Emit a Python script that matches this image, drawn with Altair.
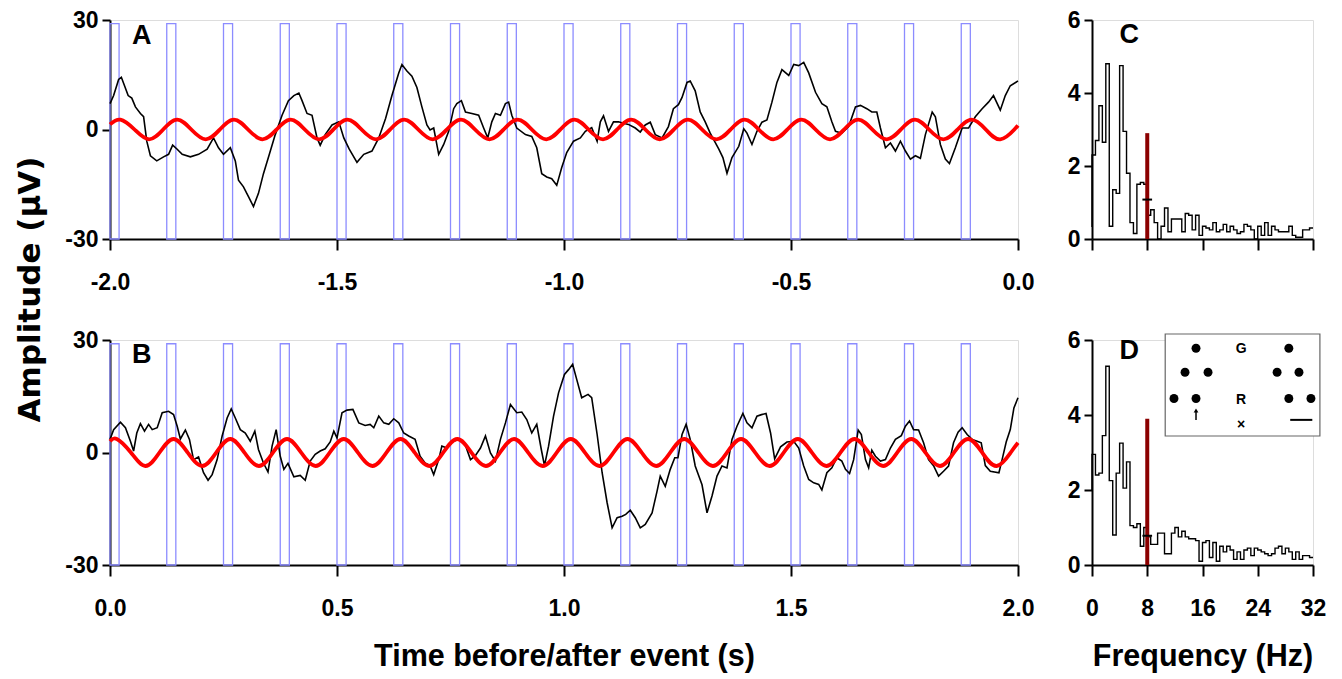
import altair as alt
import pandas as pd

FONT = "Liberation Sans"

# ---------------- data: EEG traces (time s, amplitude uV) ----------------
A_t = [-2.000, -1.992, -1.981, -1.975, -1.968, -1.960, -1.952, -1.944, -1.933, -1.926,
       -1.919, -1.911, -1.897, -1.882, -1.871, -1.862, -1.852, -1.841, -1.823, -1.805,
       -1.786, -1.772, -1.761, -1.750, -1.735, -1.724, -1.717, -1.706, -1.695, -1.684,
       -1.673, -1.662, -1.650, -1.636, -1.621, -1.607, -1.595, -1.584, -1.577, -1.566,
       -1.555, -1.544, -1.537, -1.526, -1.511, -1.496, -1.485, -1.473, -1.456, -1.441,
       -1.423, -1.408, -1.393, -1.379, -1.364, -1.357, -1.346, -1.335, -1.324, -1.313,
       -1.302, -1.295, -1.287, -1.276, -1.265, -1.254, -1.243, -1.236, -1.226, -1.217,
       -1.203, -1.188, -1.177, -1.168, -1.159, -1.151, -1.140, -1.129, -1.122, -1.115,
       -1.104, -1.085, -1.071, -1.060, -1.049, -1.038, -1.027, -1.016, -1.005, -0.994,
       -0.979, -0.964, -0.953, -0.939, -0.927, -0.920, -0.913, -0.902, -0.891, -0.880,
       -0.869, -0.858, -0.843, -0.832, -0.821, -0.810, -0.799, -0.784, -0.770, -0.759,
       -0.748, -0.740, -0.729, -0.722, -0.711, -0.700, -0.689, -0.678, -0.659, -0.650,
       -0.641, -0.630, -0.615, -0.604, -0.597, -0.586, -0.575, -0.564, -0.553, -0.542,
       -0.531, -0.520, -0.505, -0.494, -0.483, -0.472, -0.461, -0.446, -0.432, -0.421,
       -0.410, -0.402, -0.388, -0.373, -0.358, -0.347, -0.333, -0.322, -0.311, -0.303,
       -0.292, -0.281, -0.270, -0.259, -0.248, -0.237, -0.226, -0.215, -0.204, -0.189,
       -0.182, -0.171, -0.160, -0.151, -0.138, -0.123, -0.109, -0.094, -0.079, -0.065,
       -0.054, -0.039, -0.028, -0.017, 0.000]
A_v = [7.1, 9.3, 13.7, 14.3, 12.0, 9.3, 8.6, 6.2, 4.4, 3.5,
       -3.2, -7.2, -8.6, -7.5, -6.8, -4.3, -5.4, -6.8, -7.5, -6.8,
       -5.4, -2.3, -5.0, -6.8, -5.0, -8.6, -13.9, -15.7, -18.4, -21.1,
       -17.5, -12.1, -7.2, -1.4, 3.9, 7.9, 9.3, 10.0, 7.9, 4.4,
       3.9, -2.3, -4.3, -1.4, 1.25, 2.1, -2.3, -5.4, -9.0, -6.8,
       -5.9, -2.3, 3.0, 9.3, 15.5, 17.8, 16.0, 14.6, 11.5, 6.2,
       1.25, -0.1, 0.4, -6.8, -4.1, -0.5, 5.7, 7.1, 7.9, 4.8,
       4.4, 3.9, 0.4, -2.3, 2.1, 4.4, 3.9, 7.1, 7.5, 3.9,
       0.4, -1.4, -1.9, -5.0, -12.1, -13.0, -13.5, -15.3, -10.4, -6.3,
       -3.2, -2.3, -0.5, 0.5, -3.2, 2.1, 3.75, -0.5, 2.1, 2.1,
       1.7, 1.4, 0.4, -0.7, 1.25, 2.0, -1.4, -2.3, 0.8, 5.7,
       6.8, 8.8, 12.9, 13.3, 10.6, 4.8, 2.1, -1.0, -5.4, -7.7,
       -12.0, -7.7, -4.6, 0.2, -1.0, -4.1, -0.5, 2.0, 2.6, 7.5,
       12.9, 16.4, 14.8, 17.8, 17.5, 18.4, 15.5, 10.2, 7.1, 6.2,
       2.1, -0.5, -1.0, 0.8, 6.2, 6.6, 5.7, 4.8, 4.8, 0.4,
       -5.0, -3.7, -5.9, -3.2, -5.9, -8.1, -7.2, -7.9, -1.4, 4.8,
       3.5, -4.1, -8.1, -9.3, -5.0, 0.4, 0.4, 3.5, 5.7, 7.5,
       9.3, 5.3, 9.3, 12.0, 13.3]

B_t = [0.000, 0.008, 0.023, 0.034, 0.045, 0.052, 0.059, 0.067, 0.076, 0.085,
       0.093, 0.104, 0.115, 0.129, 0.140, 0.148, 0.155, 0.166, 0.175, 0.184,
       0.195, 0.206, 0.216, 0.225, 0.236, 0.247, 0.258, 0.267, 0.276, 0.287,
       0.298, 0.309, 0.319, 0.327, 0.338, 0.348, 0.357, 0.366, 0.375, 0.383,
       0.392, 0.405, 0.419, 0.430, 0.441, 0.452, 0.463, 0.474, 0.485, 0.493,
       0.500, 0.511, 0.522, 0.535, 0.548, 0.562, 0.573, 0.581, 0.592, 0.603,
       0.614, 0.625, 0.636, 0.647, 0.658, 0.672, 0.683, 0.694, 0.705, 0.713,
       0.724, 0.731, 0.742, 0.753, 0.768, 0.783, 0.794, 0.804, 0.816, 0.827,
       0.838, 0.849, 0.860, 0.871, 0.882, 0.896, 0.907, 0.918, 0.929, 0.940,
       0.950, 0.957, 0.966, 0.977, 0.988, 1.001, 1.010, 1.019, 1.028, 1.039,
       1.053, 1.061, 1.073, 1.084, 1.095, 1.106, 1.117, 1.128, 1.136, 1.146,
       1.157, 1.168, 1.179, 1.194, 1.205, 1.212, 1.223, 1.234, 1.244, 1.251,
       1.260, 1.269, 1.278, 1.289, 1.304, 1.315, 1.326, 1.337, 1.348, 1.359,
       1.370, 1.381, 1.394, 1.403, 1.414, 1.425, 1.435, 1.445, 1.455, 1.464,
       1.477, 1.491, 1.506, 1.517, 1.528, 1.539, 1.550, 1.561, 1.568, 1.579,
       1.590, 1.601, 1.612, 1.620, 1.629, 1.638, 1.648, 1.655, 1.664, 1.671,
       1.678, 1.686, 1.697, 1.708, 1.719, 1.730, 1.743, 1.752, 1.761, 1.770,
       1.781, 1.792, 1.803, 1.814, 1.825, 1.836, 1.847, 1.858, 1.868, 1.877,
       1.888, 1.899, 1.910, 1.919, 1.928, 1.939, 1.958, 1.965, 1.974, 1.983,
       1.991, 2.000]
B_v = [3.5, 6.1, 8.1, 6.6, 3.0, 0.4, 5.2, 7.7, 5.7, 7.5,
       6.1, 6.6, 10.6, 11.0, 10.1, 7.0, 3.6, 6.0, 3.5, -1.9,
       -1.2, -5.4, -7.4, -5.9, -1.9, 4.4, 9.2, 11.6, 9.2, 6.1,
       5.2, 3.0, 5.7, 0.8, -2.8, -5.2, 1.7, 6.1, -1.0, -4.5,
       -2.9, -6.5, -6.1, -7.4, -2.3, -0.5, 0.4, 1.0, 2.8, 5.7,
       3.9, 10.6, 11.3, 11.5, 7.9, 7.2, 7.5, 6.6, 9.7, 7.9,
       7.5, 9.0, 7.9, 5.2, 4.4, 3.5, -1.0, -2.8, -3.5, -5.9,
       -1.9, 1.7, 1.2, 2.8, 3.5, 1.9, -1.9, -1.0, 1.2, 4.4,
       -0.1, -2.3, 3.5, 7.9, 12.8, 10.6, 10.8, 8.8, 5.2, 7.5,
       0.8, -3.5, 1.7, 9.7, 15.9, 20.8, 22.1, 23.5, 19.5, 14.6,
       15.5, 14.6, 4.8, -5.4, -13.4, -20.1, -17.4, -17.0, -16.5, -15.4,
       -17.4, -20.1, -19.2, -16.1, -10.3, -6.3, -9.0, -4.5, -1.4, -1.4,
       4.8, 7.5, 3.5, -3.6, -8.6, -16.1, -11.6, -6.3, -3.6, -4.1,
       3.5, 7.0, 10.4, 7.9, 6.6, 9.7, 10.1, 10.4, 5.2, -1.7,
       1.5, 2.8, 3.0, 1.2, -3.6, -7.2, -8.1, -8.5, -10.0, -5.4,
       -4.1, -1.4, -2.3, -4.5, -5.6, -1.9, 6.0, 4.8, -1.9, -4.1,
       0.6, -1.0, -2.3, -1.9, 1.2, 3.5, 4.5, 7.0, 8.4, 6.1,
       6.0, 2.6, -1.9, -3.5, -6.3, -5.0, -3.6, 2.6, 5.4, 6.6,
       4.8, 3.5, 3.0, 2.6, -3.5, -5.0, -5.4, -1.9, 2.8, 6.1,
       11.9, 14.6]

# fitted 8 Hz sinusoids (read at peaks / zero crossings / troughs)
sineA_t = [-2.000, -1.977, -1.946, -1.914, -1.883, -1.852, -1.821, -1.789, -1.758,
           -1.727, -1.696, -1.664, -1.633, -1.602, -1.571, -1.539, -1.508,
           -1.477, -1.446, -1.414, -1.383, -1.352, -1.321, -1.289, -1.258,
           -1.227, -1.196, -1.164, -1.133, -1.102, -1.071, -1.039, -1.008,
           -0.977, -0.946, -0.914, -0.883, -0.852, -0.821, -0.789, -0.758,
           -0.727, -0.696, -0.664, -0.633, -0.602, -0.571, -0.539, -0.508,
           -0.477, -0.446, -0.414, -0.383, -0.352, -0.321, -0.289, -0.258,
           -0.227, -0.196, -0.164, -0.133, -0.102, -0.071, -0.039, -0.008, 0.000]
sineA_v = [1.4, 2.7, 0.0, -2.7, 0.0, 2.7, 0.0, -2.7, 0.0,
           2.7, 0.0, -2.7, 0.0, 2.7, 0.0, -2.7, 0.0,
           2.7, 0.0, -2.7, 0.0, 2.7, 0.0, -2.7, 0.0,
           2.7, 0.0, -2.7, 0.0, 2.7, 0.0, -2.7, 0.0,
           2.7, 0.0, -2.7, 0.0, 2.7, 0.0, -2.7, 0.0,
           2.7, 0.0, -2.7, 0.0, 2.7, 0.0, -2.7, 0.0,
           2.7, 0.0, -2.7, 0.0, 2.7, 0.0, -2.7, 0.0,
           2.7, 0.0, -2.7, 0.0, 2.7, 0.0, -2.7, 0.0, 1.1]
sineB_t = [0.000, 0.015, 0.046, 0.078, 0.109, 0.140, 0.171, 0.203, 0.234,
           0.265, 0.296, 0.328, 0.359, 0.390, 0.421, 0.453, 0.484,
           0.515, 0.546, 0.578, 0.609, 0.640, 0.671, 0.703, 0.734,
           0.765, 0.796, 0.828, 0.859, 0.890, 0.921, 0.953, 0.984,
           1.015, 1.046, 1.078, 1.109, 1.140, 1.171, 1.203, 1.234,
           1.265, 1.296, 1.328, 1.359, 1.390, 1.421, 1.453, 1.484,
           1.515, 1.546, 1.578, 1.609, 1.640, 1.671, 1.703, 1.734,
           1.765, 1.796, 1.828, 1.859, 1.890, 1.921, 1.953, 1.984, 2.000]
sineB_v = [3.0, 3.6, 0.0, -3.6, 0.0, 3.6, 0.0, -3.6, 0.0,
           3.6, 0.0, -3.6, 0.0, 3.6, 0.0, -3.6, 0.0,
           3.6, 0.0, -3.6, 0.0, 3.6, 0.0, -3.6, 0.0,
           3.6, 0.0, -3.6, 0.0, 3.6, 0.0, -3.6, 0.0,
           3.6, 0.0, -3.6, 0.0, 3.6, 0.0, -3.6, 0.0,
           3.6, 0.0, -3.6, 0.0, 3.6, 0.0, -3.6, 0.0,
           3.6, 0.0, -3.6, 0.0, 3.6, 0.0, -3.6, 0.0,
           3.6, 0.0, -3.6, 0.0, 3.6, 0.0, -3.6, 0.0, 2.6]

# stimulus pulses (on / off times, s) and their level span (uV)
pulseA_on = [-2.0, -1.875, -1.75, -1.625, -1.5, -1.375, -1.25, -1.125,
             -1.0, -0.875, -0.75, -0.625, -0.5, -0.375, -0.25, -0.125]
pulseA_off = [-1.98, -1.855, -1.73, -1.605, -1.48, -1.355, -1.23, -1.105,
              -0.98, -0.855, -0.73, -0.605, -0.48, -0.355, -0.23, -0.105]
pulseB_on = [0.0, 0.125, 0.25, 0.375, 0.5, 0.625, 0.75, 0.875,
             1.0, 1.125, 1.25, 1.375, 1.5, 1.625, 1.75, 1.875]
pulseB_off = [0.02, 0.145, 0.27, 0.395, 0.52, 0.645, 0.77, 0.895,
              1.02, 1.145, 1.27, 1.395, 1.52, 1.645, 1.77, 1.895]
pulse_low = -30
pulse_high = 29

# ---------------- data: spectra (0.5 Hz bins) ----------------
freq_edges = [0.0, 0.5, 1.0, 1.5, 2.0, 2.5, 3.0, 3.5, 4.0, 4.5, 5.0, 5.5, 6.0, 6.5, 7.0, 7.5,
              8.0, 8.5, 9.0, 9.5, 10.0, 10.5, 11.0, 11.5, 12.0, 12.5, 13.0, 13.5, 14.0, 14.5, 15.0, 15.5,
              16.0, 16.5, 17.0, 17.5, 18.0, 18.5, 19.0, 19.5, 20.0, 20.5, 21.0, 21.5, 22.0, 22.5, 23.0, 23.5,
              24.0, 24.5, 25.0, 25.5, 26.0, 26.5, 27.0, 27.5, 28.0, 28.5, 29.0, 29.5, 30.0, 30.5, 31.0, 31.5,
              32.0]
specC_start = 0.33
specC = [2.3, 2.7, 3.65, 2.65, 4.8, 0.35, 1.35, 1.25, 4.75, 2.95,
         1.8, 0.45, 0.15, 1.5, 1.55, 1.5, 0.65, 0.8, 0.45, 0.0,
         0.35, 0.85, 0.2, 0.55, 0.55, 0.55, 0.2, 0.7, 0.65, 0.25,
         0.65, 0.1, 0.35, 0.3, 0.25, 0.45, 0.2, 0.25, 0.4, 0.2,
         0.35, 0.25, 0.15, 0.2, 0.4, 0.35, 0.25, 0.0, 0.35, 0.1,
         0.45, 0.1, 0.35, 0.25, 0.2, 0.2, 0.2, 0.35, 0.1, 0.05,
         0.05, 0.25, 0.25, 0.3]
specD_start = 2.0
specD = [2.95, 2.4, 2.45, 3.45, 5.3, 2.25, 0.8, 2.45, 3.25, 2.05,
         2.75, 1.05, 1.0, 1.1, 0.5, 1.0, 0.75, 0.55, 0.55, 0.85,
         0.85, 0.3, 0.3, 0.85, 1.0, 0.75, 0.9, 0.75, 0.7, 0.7,
         0.65, 0.1, 0.6, 0.65, 0.2, 0.6, 0.1, 0.5, 0.35, 0.5,
         0.4, 0.15, 0.35, 0.15, 0.4, 0.45, 0.25, 0.45, 0.4, 0.35,
         0.3, 0.25, 0.3, 0.45, 0.5, 0.3, 0.45, 0.35, 0.15, 0.35,
         0.15, 0.25, 0.25, 0.2]
stim_freq = 8.0
stim_power = {"C": 2.9, "D": 3.9}
noise_level = {"C": 1.08, "D": 0.78}
noise_span = [7.3, 8.7]

# panel letters (data coordinates)
letters = {"A": (-1.93, 25.5), "B": (0.07, 26.0), "C": (5.4, 5.6), "D": (5.4, 5.7)}

# inset (electrode layout) in panel-D data coordinates
inset_box = (10.6, 33.0, 3.44, 6.16)
inset_dot_f = [15.06, 28.5, 13.47, 16.8, 26.8, 29.97, 11.87, 15.06, 28.5, 31.7]
inset_dot_a = [5.78, 5.78, 5.14, 5.14, 5.14, 5.14, 4.44, 4.44, 4.44, 4.44]
inset_text = ["G", "R", "×"]
inset_text_f = [21.6, 21.6, 21.6]
inset_text_a = [5.76, 4.41, 3.74]
inset_arrow = (15.06, 3.87, 4.12)
inset_bar = (28.7, 31.9, 3.87)

# ---------------- helpers ----------------
W_T, W_S = 908, 221
H_TOP, H_BOT = 219, 225
NEG_LABEL = "datum.value < 0 ? '-' + format(-datum.value, '{f}') : format(datum.value, '{f}')"

axis_common = dict(
    domainColor="black", domainWidth=2, tickColor="black", tickWidth=2,
    labelFont=FONT, labelFontWeight="bold", labelFontSize=23, labelColor="black",
    titleFont=FONT, titleFontWeight="bold", titleFontSize=30.5, titleColor="black",
    grid=False, labelFlush=False, labelOverlap=False,
)


def trace_panel(t, v, st, sv, pon, poff, xdom, xticks, letter, xtitle, ytitle, height):
    df = pd.DataFrame({"t": t, "v": v})
    dfs = pd.DataFrame({"t": st, "v": sv})
    dfp = pd.DataFrame({"t": pon, "t2": poff, "lo": [pulse_low] * len(pon), "hi": [pulse_high] * len(pon)})
    lx, ly = letters[letter]
    dfl = pd.DataFrame({"t": [lx], "v": [ly], "s": [letter]})

    xax = dict(axis_common, values=xticks, tickSize=11, labelPadding=21,
               labelExpr=NEG_LABEL.format(f=".1f"))
    if xtitle:
        xax.update(title=xtitle, titleY=91, titleBaseline="middle")
    else:
        xax.update(title=None)
    yax = dict(axis_common, values=[-30, 0, 30], tickSize=8, labelPadding=4,
               labelExpr=NEG_LABEL.format(f="d"))
    if ytitle:
        yax.update(title=ytitle, titleX=-80, titleY=269, titleAngle=270, titleFontSize=31,
                   titleFont="DejaVu Sans", titleBaseline="middle", titleAlign="center")
    else:
        yax.update(title=None)

    xs = alt.Scale(domain=xdom, nice=False, zero=False)
    ys = alt.Scale(domain=[-30, 30], nice=False)

    pulses = alt.Chart(dfp).mark_rect(fillOpacity=0, stroke="#8c8cff", strokeWidth=1.3).encode(
        x=alt.X("t:Q", scale=xs, axis=alt.Axis(**xax)), x2="t2:Q",
        y=alt.Y("lo:Q", scale=ys, axis=alt.Axis(**yax)), y2="hi:Q")
    eeg = alt.Chart(df).mark_line(color="black", strokeWidth=1.6).encode(
        x="t:Q", y="v:Q")
    sine = alt.Chart(dfs).mark_line(color="#ff0000", strokeWidth=3.8, interpolate="natural").encode(
        x="t:Q", y="v:Q")
    lab = alt.Chart(dfl).mark_text(font=FONT, fontSize=27, fontWeight="bold", color="black",
                                   align="center", baseline="middle").encode(
        x="t:Q", y="v:Q", text="s:N")
    return alt.layer(pulses, eeg, sine, lab).properties(width=W_T, height=height)


def spec_panel(start, spec, key, show_labels, xtitle, height, inset=False):
    rows = [{"i": 0, "f": freq_edges[0], "p": start}]
    for k, p in enumerate(spec):
        rows.append({"i": k + 1, "f": freq_edges[k], "p": p})
    rows.append({"i": len(spec) + 1, "f": freq_edges[len(spec)], "p": spec[-1]})
    df = pd.DataFrame(rows)

    xax = dict(axis_common, values=[0, 8, 16, 24, 32], tickSize=11, labelPadding=21,
               labels=show_labels)
    if xtitle:
        xax.update(title=xtitle, titleY=91, titleBaseline="middle")
    else:
        xax.update(title=None)
    yax = dict(axis_common, values=[0, 2, 4, 6], tickSize=8, labelPadding=4, title=None)
    xs = alt.Scale(domain=[0, 32], nice=False, zero=False)
    ys = alt.Scale(domain=[0, 6], nice=False)

    line = alt.Chart(df).mark_line(color="black", strokeWidth=1.4, interpolate="step-after").encode(
        x=alt.X("f:Q", scale=xs, axis=alt.Axis(**xax)),
        y=alt.Y("p:Q", scale=ys, axis=alt.Axis(**yax)),
        order="i:Q")
    bar = alt.Chart(pd.DataFrame({"f": [stim_freq], "lo": [0], "hi": [stim_power[key]]})).mark_rule(
        color="#8b0000", strokeWidth=4).encode(x="f:Q", y="lo:Q", y2="hi:Q")
    noise = alt.Chart(pd.DataFrame({"f": [noise_span[0]], "f2": [noise_span[1]],
                                    "p": [noise_level[key]]})).mark_rule(
        color="black", strokeWidth=2).encode(x="f:Q", x2="f2:Q", y="p:Q")
    lx, ly = letters[key]
    lab = alt.Chart(pd.DataFrame({"f": [lx], "p": [ly], "s": [key]})).mark_text(
        font=FONT, fontSize=27, fontWeight="bold", color="black",
        align="center", baseline="middle").encode(x="f:Q", y="p:Q", text="s:N")
    layers = [line, bar, noise, lab]
    if inset:
        f1, f2, a1, a2 = inset_box
        box = alt.Chart(pd.DataFrame({"f": [f1], "f2": [f2], "p": [a1], "p2": [a2]})).mark_rect(
            fill="white", stroke="#666666", strokeWidth=1.2).encode(x="f:Q", x2="f2:Q", y="p:Q", y2="p2:Q")
        dots = alt.Chart(pd.DataFrame({"f": inset_dot_f, "p": inset_dot_a})).mark_point(
            filled=True, color="black", size=80, opacity=1).encode(x="f:Q", y="p:Q")
        txt = alt.Chart(pd.DataFrame({"f": inset_text_f, "p": inset_text_a, "s": inset_text})).mark_text(
            font=FONT, fontSize=14, fontWeight="bold", color="black", baseline="middle").encode(
            x="f:Q", y="p:Q", text="s:N")
        af, ab, at = inset_arrow
        shaft = alt.Chart(pd.DataFrame({"f": [af], "p": [ab], "p2": [at]})).mark_rule(
            color="black", strokeWidth=1.5).encode(x="f:Q", y="p:Q", y2="p2:Q")
        head = alt.Chart(pd.DataFrame({"f": [af], "p": [at]})).mark_point(
            shape="triangle-up", filled=True, color="black", size=22, opacity=1).encode(x="f:Q", y="p:Q")
        b1, b2, bp = inset_bar
        sbar = alt.Chart(pd.DataFrame({"f": [b1], "f2": [b2], "p": [bp]})).mark_rule(
            color="black", strokeWidth=2).encode(x="f:Q", x2="f2:Q", y="p:Q")
        layers += [box, dots, txt, shaft, head, sbar]
    return alt.layer(*layers).properties(width=W_S, height=height)


A = trace_panel(A_t, A_v, sineA_t, sineA_v, pulseA_on, pulseA_off, [-2, 0],
                [-2, -1.5, -1, -0.5, 0], "A", None, "Amplitude (μV)", H_TOP)
B = trace_panel(B_t, B_v, sineB_t, sineB_v, pulseB_on, pulseB_off, [0, 2],
                [0, 0.5, 1, 1.5, 2], "B", "Time before/after event (s)", None, H_BOT)
C = spec_panel(specC_start, specC, "C", False, None, H_TOP)
D = spec_panel(specD_start, specD, "D", True, "Frequency (Hz)", H_BOT, inset=True)

chart = alt.ConcatChart(
    concat=[A, C, B, D], columns=2,
    spacing={"row": 101, "column": 74}, bounds="flush",
    padding={"left": 5, "top": 0, "right": 5, "bottom": 5},
).configure_view(stroke=None).configure(font=FONT, background="white")

chart.save("out.html", embed_options={"renderer": "svg", "actions": False})
